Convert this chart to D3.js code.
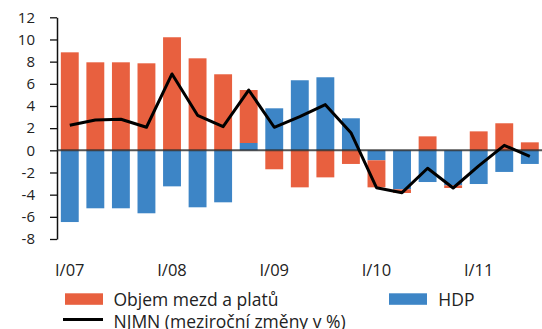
<!DOCTYPE html>
<html><head><meta charset="utf-8">
<script src="https://cdn.jsdelivr.net/npm/d3@7/dist/d3.min.js"></script>
<style>
html,body{margin:0;padding:0;background:#fff;}
svg{display:block;font-family:"Open Sans",sans-serif;}
</style></head>
<body><svg id="c" width="542" height="329"></svg>
<script>
const quarters = ["I/07","II/07","III/07","IV/07","I/08","II/08","III/08","IV/08","I/09","II/09","III/09","IV/09","I/10","II/10","III/10","IV/10","I/11","II/11","III/11"];
const wages = [8.84, 7.94, 7.94, 7.85, 10.2, 8.3, 6.86, 4.78, -1.71, -3.34, -2.44, -1.23, -2.44, -0.33, 1.26, -0.24, 1.71, 2.44, 0.72];
const hdp = [-6.47, -5.23, -5.23, -5.68, -3.25, -5.14, -4.69, 0.66, 3.79, 6.32, 6.59, 2.89, -0.90, -3.52, -2.86, -3.16, -3.04, -1.95, -1.23];
const njmn = [2.26, 2.74, 2.8, 2.08, 6.89, 3.16, 2.14, 5.44, 2.08, 3.04, 4.12, 1.59, -3.37, -3.82, -1.62, -3.4, -1.41, 0.45, -0.54];
const yTicks = [-8, -6, -4, -2, 0, 2, 4, 6, 8, 10, 12];
const xLabels = ["I/07", "I/08", "I/09", "I/10", "I/11"];
const seriesNames = ["Objem mezd a platů", "HDP", "NJMN (meziroční změny v %)"];

const RED = "#E8603F", BLUE = "#3D85C6";
const svg = d3.select("#c");

const x = d3.scaleBand().domain(quarters).range([57, 542.6]).paddingInner(0.3).paddingOuter(0.15);
const y = d3.scaleLinear().domain([-8, 12]).range([239, 17.3]);

const rows = quarters.map((q, i) => ({q, hdp: hdp[i], wages: wages[i]}));
const stacked = d3.stack().keys(["hdp", "wages"]).offset(d3.stackOffsetDiverging)(rows);
const colors = {hdp: BLUE, wages: RED};

svg.append("g").selectAll("g").data(stacked).join("g")
  .attr("fill", s => colors[s.key])
  .selectAll("rect").data(s => s).join("rect")
  .attr("x", d => x(d.data.q))
  .attr("width", x.bandwidth())
  .attr("y", d => y(Math.max(d[0], d[1])))
  .attr("height", d => Math.abs(y(d[0]) - y(d[1])));

// y axis
const yAxis = svg.append("g").attr("transform", "translate(57,0)")
  .call(d3.axisLeft(y).tickValues(yTicks).tickFormat(d => String(d)).tickSize(7).tickSizeOuter(0).tickPadding(15));
yAxis.select(".domain").attr("stroke", "#111").attr("stroke-width", 1.5);
yAxis.selectAll(".tick line").attr("stroke", "#111").attr("stroke-width", 1.3);
yAxis.selectAll(".tick text").attr("font-size", 15).attr("fill", "#222").attr("font-family", "Open Sans, sans-serif");

// zero line
svg.append("line").attr("x1", 57).attr("x2", 542).attr("y1", y(0)).attr("y2", y(0))
  .attr("stroke", "#2a2a2a").attr("stroke-opacity", 0.8).attr("stroke-width", 2);

// NJMN line
svg.append("path").datum(njmn)
  .attr("fill", "none").attr("stroke", "#000").attr("stroke-width", 3).attr("stroke-linejoin", "round")
  .attr("d", d3.line().x((d, i) => x(quarters[i]) + x.bandwidth() / 2).y(d => y(d)));

// x labels
svg.append("g").selectAll("text").data(xLabels).join("text")
  .attr("x", d => x(d) + x.bandwidth() / 2)
  .attr("y", 275.7).attr("text-anchor", "middle")
  .attr("font-size", 16.5).attr("fill", "#222").text(d => d);

// legend
const lg = svg.append("g").attr("font-size", 17.5).attr("fill", "#222");
lg.append("rect").attr("x", 65).attr("y", 293.3).attr("width", 38).attr("height", 11.5).attr("fill", RED);
lg.append("text").attr("x", 113.5).attr("y", 305.7).attr("fill", "#222").text(seriesNames[0]);
lg.append("rect").attr("x", 389).attr("y", 293.3).attr("width", 38).attr("height", 11.5).attr("fill", BLUE);
lg.append("text").attr("x", 438.3).attr("y", 305.7).attr("fill", "#222").text(seriesNames[1]);
lg.append("line").attr("x1", 63).attr("x2", 103).attr("y1", 319.5).attr("y2", 319.5).attr("stroke", "#000").attr("stroke-width", 3);
lg.append("text").attr("x", 113.5).attr("y", 328.3).attr("fill", "#222").text(seriesNames[2]);
</script></body></html>
